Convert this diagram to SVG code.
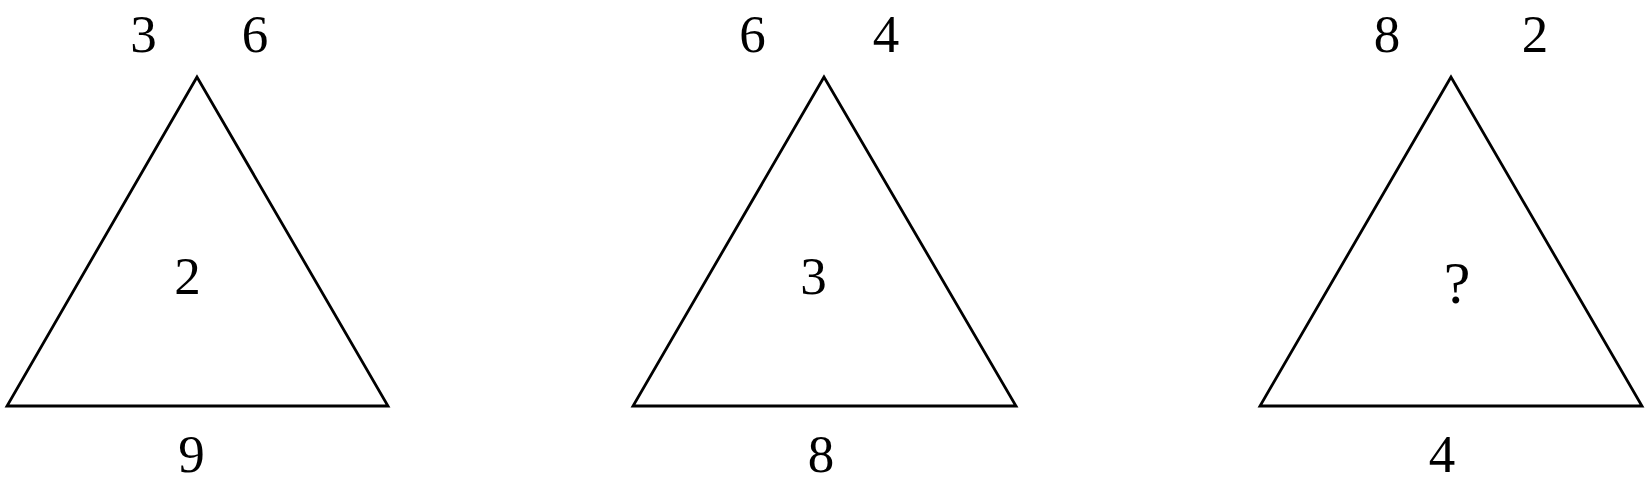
<svg xmlns="http://www.w3.org/2000/svg" width="1649" height="484" viewBox="0 0 1649 484">
<style>
.tri{fill:none;stroke:#000;stroke-width:2.8;stroke-linejoin:miter}
.t{font-family:"Liberation Serif","Times New Roman",serif;font-size:53px;fill:#000;text-anchor:middle}
</style>
<rect width="1649" height="484" fill="#fff"/>
<g id="triangle1">
<polygon class="tri" points="197,77 7,406 388,406"/>
<text class="t" x="143.5" y="52">3</text>
<text class="t" x="255" y="52">6</text>
<text class="t" x="187.5" y="294">2</text>
<text class="t" x="191.5" y="472">9</text>
</g>
<g id="triangle2">
<polygon class="tri" points="824,77 633,406 1016,406"/>
<text class="t" x="752.5" y="52">6</text>
<text class="t" x="886" y="52">4</text>
<text class="t" x="813.5" y="294">3</text>
<text class="t" x="821" y="472">8</text>
</g>
<g id="triangle3">
<polygon class="tri" points="1451,77 1260,406 1642,406"/>
<text class="t" x="1387" y="52">8</text>
<text class="t" x="1535" y="52">2</text>
<text class="t" x="1457" y="303" style="font-size:60px">?</text>
<text class="t" x="1442" y="472">4</text>
</g>
<g id="connectors"/>
</svg>
